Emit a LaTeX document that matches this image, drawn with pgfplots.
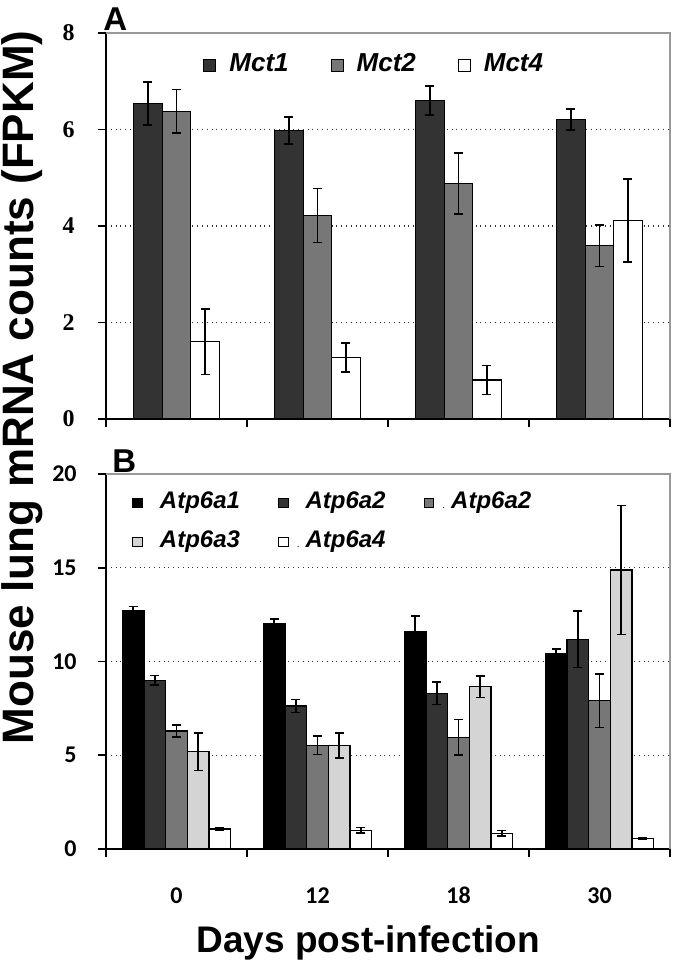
\documentclass[border=0pt]{standalone}
\usepackage{fontspec}
\setmainfont{Liberation Sans}
\newfontfamily\timesf{Liberation Serif}
\newfontfamily\calib{Carlito}
\usepackage{pgfplots}
\usepackage{pgfplotstable}
\pgfplotsset{compat=1.18}

\definecolor{gA}{HTML}{333333}
\definecolor{gB}{HTML}{777777}
\definecolor{gC}{HTML}{D4D4D4}

% panel A: Mct transporters (mean, error)
\pgfplotstableread{
x m1 e1 m2 e2 m4 e4
0 6.54 0.45 6.38 0.45 1.60 0.68
1 5.98 0.28 4.22 0.56 1.27 0.30
2 6.60 0.30 4.88 0.63 0.81 0.30
3 6.21 0.22 3.59 0.43 4.12 0.86
}\mcttab

% panel B: Atp6a subunits
\pgfplotstableread{
x a1 e1 a2 e2 b2 f2 a3 e3 a4 e4
0 12.69 0.25 9.00 0.25 6.29 0.33 5.19 1.00 1.07 0.05
1 12.04 0.23 7.63 0.35 5.53 0.50 5.53 0.67 1.00 0.15
2 11.61 0.83 8.30 0.60 5.95 0.95 8.66 0.57 0.84 0.15
3 10.43 0.23 11.18 1.50 7.91 1.42 14.88 3.45 0.57 0.05
}\atptab

\pgfplotsset{
  panel/.style={
    scale only axis, width=282pt,
    xmin=-0.5, xmax=3.5, ymin=0,
    clip mode=individual,
    axis x line*=bottom, axis y line*=left,
    axis line style={black, line width=0.8pt},
    tick align=outside, major tick length=4pt,
    tick style={black, line width=0.8pt},
    xtick={-0.5,0.5,1.5,2.5,3.5}, xticklabels={,,,,},
    ymajorgrids, grid style={dotted, black!80, line width=0.7pt},
    ybar=0pt,
    yticklabel style={anchor=east, inner sep=0pt},
    legend style={draw=none, fill=none, inner sep=0pt,
      nodes={inner sep=0pt, text height=9pt, text depth=3pt},
      font=\bfseries\itshape},
  },
  eb/.style={error bars/.cd, y dir=both, y explicit,
    error bar style={black, line width=0.8pt},
    error mark options={black, rotate=90, mark size=2.25pt, line width=0.8pt}},
  barA/.style={draw=black, line width=0.6pt, fill=#1, eb},
}

\begin{document}
\begin{tikzpicture}
\useasboundingbox (-53pt,-272pt) rectangle (284.5pt,209.5pt);

\begin{axis}[panel, at={(0pt,0pt)}, height=193pt,
  ymax=8, ytick={0,2,4,6,8},
  bar width=14.25pt,
  yticklabel={\timesf\bfseries\fontsize{12}{12}\selectfont\pgfmathprintnumber[assume math mode=true]{\tick}\hspace*{11.5pt}},
  ylabel={Mouse lung mRNA counts (FPKM)},
  ylabel style={at={(axis description cs:-0.1277,0.0816)}, anchor=base,
    font=\bfseries\fontsize{22}{22}\selectfont},
  legend columns=3,
  legend style={at={(axis description cs:0.172,0.917)}, anchor=west,
    font=\bfseries\itshape\fontsize{13}{13}\selectfont,
    /tikz/every odd column/.append style={column sep=6.5pt},
    /tikz/every even column/.append style={column sep=21pt}},
  legend image code/.code={\draw[#1, line width=0.5pt] (0pt,-3pt) rectangle (6pt,3pt);},
]
\addplot[barA=gA] table[x=x, y=m1, y error=e1] {\mcttab};
\addlegendentry{Mct1}
\addplot[barA=gB] table[x=x, y=m2, y error=e2] {\mcttab};
\addlegendentry{Mct2}
\addplot[barA=white] table[x=x, y=m4, y error=e4] {\mcttab};
\addlegendentry{Mct4}
\draw[gray!80, line width=1pt] (rel axis cs:0,1) -- (rel axis cs:1,1) -- (rel axis cs:1,0);
\node[anchor=base west, inner sep=0pt, font=\bfseries\fontsize{16.5}{16.5}\selectfont,
  xshift=-1.5pt, yshift=1.5pt] at (rel axis cs:0,1) {A};
\end{axis}

\begin{axis}[panel, at={(0pt,-215pt)}, height=187.5pt,
  ymax=20, ytick={0,5,10,15,20},
  bar width=10.85pt,
  yticklabel={\calib\bfseries\fontsize{12}{12}\selectfont\pgfmathprintnumber[assume math mode=true]{\tick}\hspace*{10.5pt}},
  xticklabel style={font=\calib\bfseries\fontsize{12}{12}\selectfont, anchor=base, yshift=-23pt},
  extra x ticks={0,1,2,3}, extra x tick labels={0,12,18,30},
  extra x tick style={tick style={draw=none}},
  xlabel={Days post-infection},
  xlabel style={at={(axis description cs:0.465,0)}, anchor=base, yshift=-51.5pt,
    font=\bfseries\fontsize{18.5}{18.5}\selectfont},
  legend columns=3,
  legend style={at={(axis description cs:0.046,0.871)}, anchor=west,
    font=\bfseries\itshape\fontsize{12}{12}\selectfont,
    row sep=7.5pt,
    /tikz/every odd column/.append style={column sep=8.5pt},
    /tikz/every even column/.append style={column sep=19pt}},
  legend image code/.code={\draw[#1, line width=0.5pt] (0pt,-2.4pt) rectangle (4.8pt,2.4pt);},
]
\addplot[barA=black] table[x=x, y=a1, y error=e1] {\atptab};
\addlegendentry{Atp6a1}
\addplot[barA=gA] table[x=x, y=a2, y error=e2] {\atptab};
\addlegendentry{Atp6a2}
\addplot[barA=gB] table[x=x, y=b2, y error=f2] {\atptab};
\addlegendentry{\llap{\normalfont\tiny.\hspace{3pt}}Atp6a2}
\addplot[barA=gC] table[x=x, y=a3, y error=e3] {\atptab};
\addlegendentry{Atp6a3}
\addplot[barA=white] table[x=x, y=a4, y error=e4] {\atptab};
\addlegendentry{\llap{\normalfont\tiny.\hspace{3pt}}Atp6a4}
\draw[gray!80, line width=1pt] (rel axis cs:0,1) -- (rel axis cs:1,1) -- (rel axis cs:1,0);
\node[anchor=base west, inner sep=0pt, font=\bfseries\fontsize{16.5}{16.5}\selectfont,
  xshift=3pt, yshift=1pt] at (rel axis cs:0,1) {B};
\end{axis}
\end{tikzpicture}
\end{document}
